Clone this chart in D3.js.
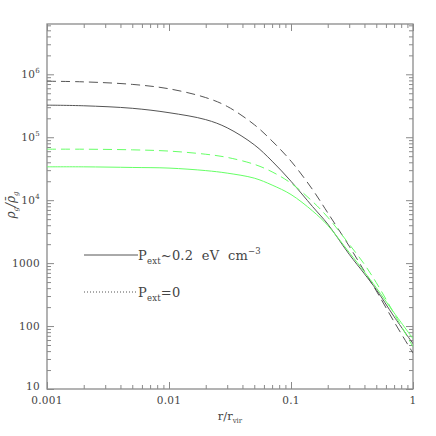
<!DOCTYPE html>
<html><head><meta charset="utf-8">
<script src="https://cdn.jsdelivr.net/npm/d3@7"></script>
<style>
html,body{margin:0;padding:0;background:#fff;}
</style></head>
<body><svg id="c" width="436" height="436"></svg>
<script>
// ---- data ----
const radius = [0.001,0.002,0.005,0.01,0.02,0.03,0.05,0.07,0.1,0.15,0.2,0.3,0.4,0.5,0.7,1.0];
const blackSolid  = [323600,316200,288400,245500,190500,141300,75900,41700,19950,7940,4170,1380,676,380,141,52.5];
const blackDashed = [776200,758600,691800,588800,426600,309000,158500,87100,41700,14790,6310,1860,741,363,117,37.2];
const greenDashed = [64570,64570,63100,60260,53700,47860,37150,28180,18620,9550,5370,1995,955,490,158,46.8];
const greenSolid  = [33880,33880,33110,32360,29510,26920,22390,17380,12300,6760,3980,1480,724,407,162,63.1];
const xTickValues = [0.001,0.01,0.1,1];
const xTickLabels = ["0.001","0.01","0.1","1"];
const yTickValues = [10,100,1000,1e4,1e5,1e6];
const yTickBase   = ["10","100","1000","10","10","10"];
const yTickSup    = ["","","","4","5","6"];
const legendLabels = [
  {main:"P", sub:"ext", rest:"~0.2  eV  cm", sup:"\u22123", dash:null},
  {main:"P", sub:"ext", rest:"=0", sup:"", dash:"1,2"}
];

const FONT = "DejaVu Serif";
const svg = d3.select("#c");
const L=47,R=413,T=24,B=389;
const x = d3.scaleLog().domain([0.001,1]).range([L,R]);
const y = d3.scaleLog().domain([10,6.3e6]).range([B,T]);
const axisColor="#8a8a8a";
const textColor="#444";

// frame
svg.append("rect").attr("x",L).attr("y",T).attr("width",R-L).attr("height",B-T)
  .attr("fill","none").attr("stroke",axisColor).attr("stroke-width",1.3);

// ticks
const xMinor = x.ticks().filter(v=>!xTickValues.some(m=>Math.abs(m-v)<1e-12));
const yAll = d3.scaleLog().domain([10,1e7]).ticks();
const yMinor = yAll.filter(v=>v<=6.3e6 && !yTickValues.includes(v));
function tickGroup(axisFn, transform, values, size){
  const g = svg.append("g").attr("transform",transform)
    .call(axisFn.tickValues(values).tickSize(size).tickFormat(""));
  g.select(".domain").remove();
  g.selectAll(".tick line").attr("stroke",axisColor).attr("stroke-width",1);
}
tickGroup(d3.axisBottom(x),`translate(0,${B})`,xTickValues,-7);
tickGroup(d3.axisBottom(x),`translate(0,${B})`,xMinor,-4);
tickGroup(d3.axisTop(x),`translate(0,${T})`,xTickValues,-7);
tickGroup(d3.axisTop(x),`translate(0,${T})`,xMinor,-4);
tickGroup(d3.axisLeft(y),`translate(${L},0)`,yTickValues,-7);
tickGroup(d3.axisLeft(y),`translate(${L},0)`,yMinor,-4);
tickGroup(d3.axisRight(y),`translate(${R},0)`,yTickValues,-7);
tickGroup(d3.axisRight(y),`translate(${R},0)`,yMinor,-4);

// tick labels
xTickValues.forEach((v,i)=>{
  svg.append("text").attr("x",x(v)).attr("y",B+15).attr("text-anchor","middle").attr("fill",textColor)
    .attr("font-family",FONT).attr("font-size",10.5).attr("letter-spacing",0.3).text(xTickLabels[i]);
});
yTickValues.forEach((v,i)=>{
  const t = svg.append("text").attr("x",40).attr("y",y(v)+4 - (v===10?3:0)).attr("text-anchor","end").attr("fill",textColor)
    .attr("font-family",FONT).attr("font-size",10.5).attr("letter-spacing",0.3);
  t.append("tspan").text(yTickBase[i]);
  if(yTickSup[i]) t.append("tspan").attr("dy",-5).attr("font-size",7).text(yTickSup[i]);
});

// axis titles
const xt = svg.append("text").attr("x",230).attr("y",420).attr("text-anchor","middle").attr("fill",textColor)
  .attr("font-family",FONT).attr("font-size",11.5);
xt.append("tspan").text("r/r");
xt.append("tspan").attr("dy",3).attr("font-size",7).text("vir");

const yt = svg.append("text").attr("transform","translate(15,205) rotate(-90)").attr("text-anchor","middle").attr("fill",textColor)
  .attr("font-family",FONT).attr("font-size",12).attr("font-style","italic");
yt.append("tspan").text("\u03c1");
yt.append("tspan").attr("dy",3).attr("font-size",7).text("g");
yt.append("tspan").attr("dy",-3).text("/\u03c1\u0304");
yt.append("tspan").attr("dy",3).attr("font-size",7).text("g");

// curves
svg.append("clipPath").attr("id","clip").append("rect").attr("x",L).attr("y",T).attr("width",R-L).attr("height",B-T);
const line = d3.line().x(d=>x(d[0])).y(d=>y(d[1])).curve(d3.curveCatmullRom.alpha(0.5));
const series = [
  {v:blackDashed,c:"#555",dash:"9,5"},
  {v:blackSolid,c:"#555",dash:null},
  {v:greenDashed,c:"#66ff66",dash:"9,5"},
  {v:greenSolid,c:"#66ff66",dash:null}
];
series.forEach(s=>{
  svg.append("path").attr("clip-path","url(#clip)")
    .attr("d",line(radius.map((r,i)=>[r,s.v[i]])))
    .attr("fill","none").attr("stroke",s.c).attr("stroke-width",1)
    .attr("stroke-dasharray",s.dash);
});

// legend
legendLabels.forEach((d,i)=>{
  const yy = 255 + i*37;
  svg.append("line").attr("x1",84).attr("x2",138).attr("y1",yy).attr("y2",yy)
    .attr("stroke","#555").attr("stroke-width",1).attr("stroke-dasharray",d.dash);
  const t = svg.append("text").attr("x",138).attr("y",yy+5).attr("fill",textColor).attr("font-family",FONT).attr("font-size",13)
    .attr("letter-spacing",0.2).style("white-space","pre");
  t.append("tspan").text(d.main);
  t.append("tspan").attr("dy",4).attr("font-size",8.5).text(d.sub);
  t.append("tspan").attr("dy",-4).text(d.rest);
  if(d.sup) t.append("tspan").attr("dy",-6).attr("font-size",8.5).text(d.sup);
});
</script></body></html>
